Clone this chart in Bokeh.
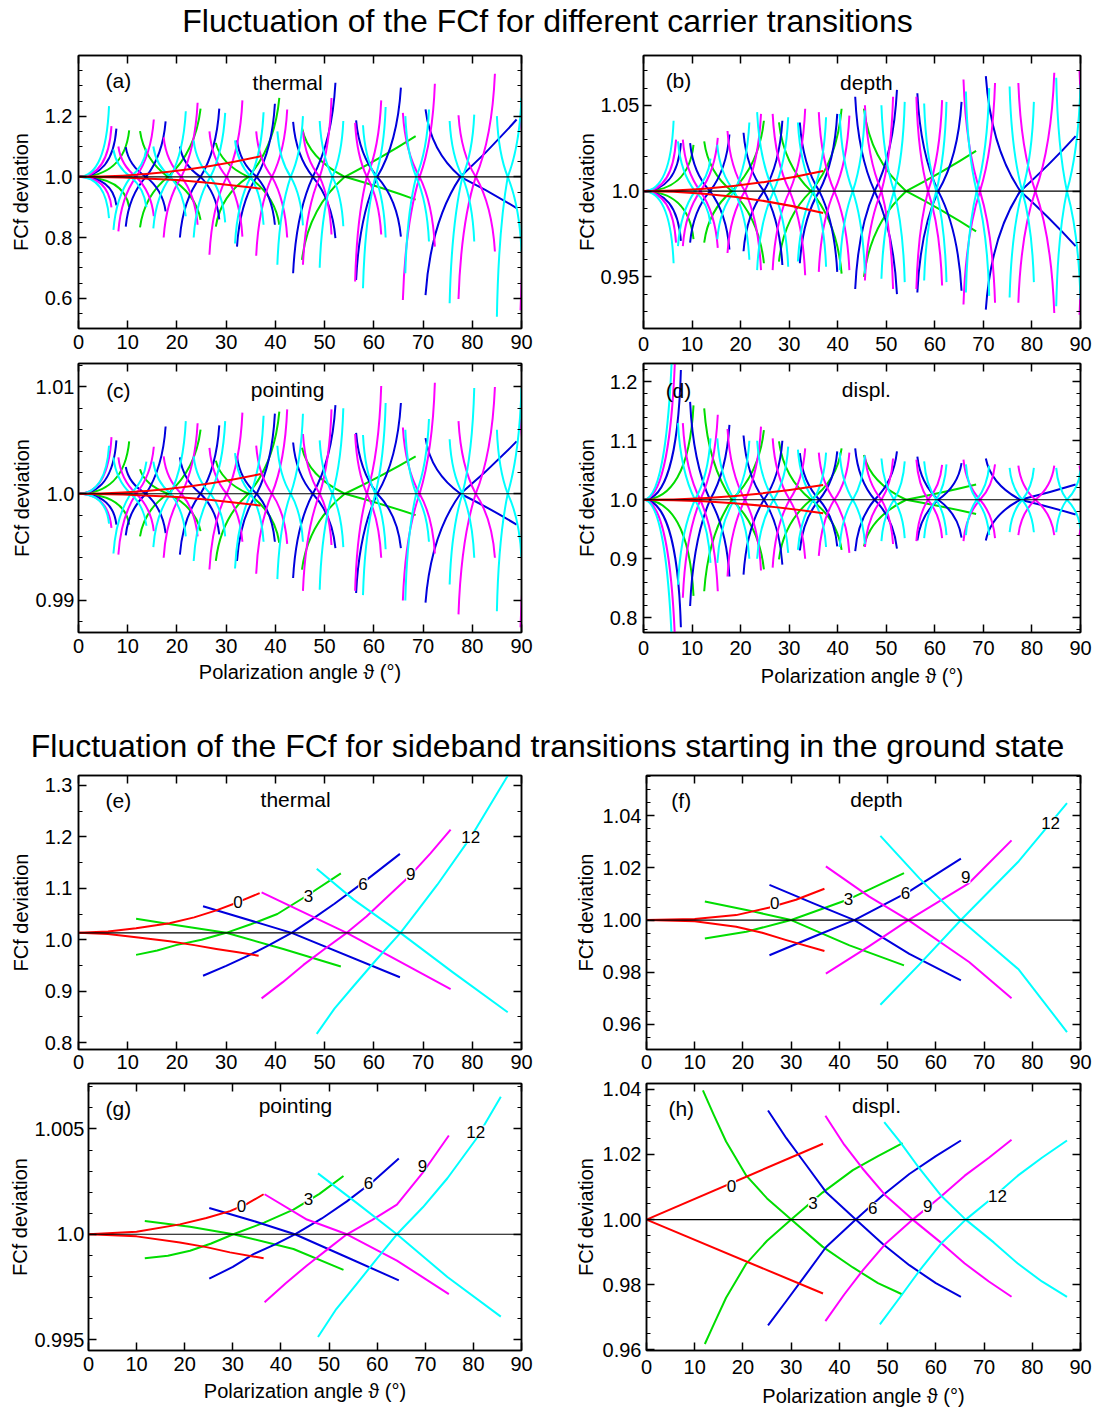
from bokeh.plotting import figure
from bokeh.models import Range1d, LinearAxis, FixedTicker, Span, Label, LabelSet, ColumnDataSource
from bokeh.layouts import column, row
from bokeh.core.properties import value
from bokeh.embed import file_html
from bokeh.resources import INLINE

FONT = "Liberation Sans"
COLORS = {"red": "#FF0000", "green": "#00DD00", "blue": "#0000DD",
          "magenta": "#FF00FF", "cyan": "#00FFFF"}
DRAW_ORDER = ["green", "blue", "magenta", "cyan", "red"]
ANGLE_TICKS = [0, 10, 20, 30, 40, 50, 60, 70, 80, 90]

# ---------------- carrier transitions: shared angle structure (left end, node, right end) ----
XS_RED = [(0.0, 0.0, 37.0)]
XS_GREEN = [(0.0, 0.0, 10.3), (12.5, 18.2, 24.8), (27.9, 34.5, 40.8), (45.4, 54.1, 68.5)]
XS_BLUE = [(0.0, 0.0, 7.7), (9.6, 13.7, 17.7), (20.6, 24.8, 28.6), (32.2, 36.2, 39.9),
           (43.6, 47.6, 52.2), (56.4, 60.7, 65.5), (70.5, 77.6, 89.0)]
XS_MAGENTA = [(0.0, 0.0, 6.7), (8.1, 11.7, 15.3), (17.3, 20.9, 24.2), (26.6, 30.1, 33.3),
              (36.1, 39.3, 42.4), (45.6, 49.0, 51.4), (56.2, 58.6, 61.5), (65.9, 69.3, 72.4),
              (77.2, 80.7, 84.6), (89.8, 93.0, 93.0)]
XS_CYAN = [(0.0, 0.0, 6.2), (7.1, 10.6, 13.8), (15.2, 18.7, 21.8), (23.4, 26.8, 29.8),
           (31.8, 35.0, 37.6), (40.4, 43.1, 45.6), (49.0, 51.6, 53.8), (57.8, 60.3, 62.4),
           (66.4, 68.6, 71.2), (75.4, 78.0, 80.4), (85.0, 87.2, 90.0)]

# end values (upper-left, lower-left, upper-right, lower-right) per feature
HA_RED = [(None, None, 1.068, 0.961)]
HA_GREEN = [(None, None, 1.153, 0.900), (1.151, 0.833, 1.225, 0.858), (1.112, 0.836, 1.260, 0.842),
            (1.161, 0.726, 1.134, 0.925)]
HA_BLUE = [(None, None, 1.159, 0.906), (1.098, 0.836, 1.183, 0.886), (1.100, 0.800, 1.225, 0.860),
           (1.120, 0.770, 1.241, 0.842), (1.181, 0.682, 1.310, 0.798), (1.186, 0.660, 1.294, 0.803),
           (1.222, 0.610, 1.189, 0.897)]
HA_MAGENTA = [(None, None, 1.167, 0.899), (1.100, 0.820, 1.189, 0.870), (1.130, 0.800, 1.244, 0.842),
              (1.150, 0.743, 1.252, 0.803), (1.150, 0.740, 1.222, 0.800), (1.150, 0.710, 1.260, 0.810),
              (1.178, 0.655, 1.252, 0.810), (1.211, 0.594, 1.307, 0.770), (1.203, 0.597, 1.340, 0.754),
              (1.200, 0.560, None, None)]
HA_CYAN = [(None, None, 1.233, 0.864), (1.090, 0.825, 1.093, 0.900), (1.100, 0.830, 1.216, 0.870),
           (1.120, 0.800, 1.211, 0.850), (1.120, 0.780, 1.213, 0.842), (1.150, 0.710, 1.200, 0.840),
           (1.184, 0.700, 1.184, 0.837), (1.170, 0.633, 1.230, 0.800), (1.200, 0.682, 1.222, 0.787),
           (1.184, 0.583, 1.205, 0.787), (1.200, 0.539, 1.260, 0.754)]

HB_RED = [(None, None, 1.0117, 0.9873)]
HB_GREEN = [(None, None, 1.027, 0.972), (1.029, 0.970, 1.041, 0.958), (1.040, 0.959, 1.048, 0.952),
            (1.048, 0.950, 1.0234, 0.9766)]
HB_BLUE = [(None, None, 1.028, 0.971), (1.028, 0.970, 1.033, 0.966), (1.034, 0.965, 1.041, 0.957),
           (1.040, 0.958, 1.045, 0.953), (1.055, 0.943, 1.059, 0.940), (1.057, 0.941, 1.052, 0.942),
           (1.067, 0.931, 1.032, 0.968)]
HB_MAGENTA = [(None, None, 1.030, 0.970), (1.030, 0.968, 1.031, 0.967), (1.035, 0.964, 1.045, 0.954),
              (1.045, 0.954, 1.048, 0.951), (1.046, 0.953, 1.044, 0.954), (1.050, 0.948, 1.055, 0.943),
              (1.055, 0.943, 1.053, 0.945), (1.065, 0.934, 1.063, 0.935), (1.063, 0.935, 1.069, 0.929),
              (1.070, 0.928, None, None)]
HB_CYAN = [(None, None, 1.041, 0.958), (1.029, 0.968, 1.019, 0.981), (1.027, 0.972, 1.040, 0.960),
           (1.046, 0.954, 1.043, 0.956), (1.040, 0.959, 1.043, 0.956), (1.045, 0.954, 1.047, 0.952),
           (1.050, 0.949, 1.052, 0.947), (1.051, 0.948, 1.052, 0.947), (1.058, 0.941, 1.060, 0.939),
           (1.061, 0.938, 1.052, 0.947), (1.066, 0.933, 1.062, 0.937)]

HC_RED = [(None, None, 1.00185, 0.9989)]
HC_GREEN = [(None, None, 1.0049, 0.9971), (1.0023, 0.9960, 1.0060, 0.9965), (1.0031, 0.9937, 1.0077, 0.9954),
            (1.0043, 0.9929, 1.0035, 0.9980)]
HC_BLUE = [(None, None, 1.0050, 0.9971), (1.0025, 0.9961, 1.0063, 0.9963), (1.0034, 0.9943, 1.0064, 0.9962),
           (1.0035, 0.9937, 1.0075, 0.9955), (1.0048, 0.9921, 1.0083, 0.9949), (1.0057, 0.9907, 1.0085, 0.9949),
           (1.0052, 0.9898, 1.0049, 0.9971)]
HC_MAGENTA = [(None, None, 1.0053, 0.9968), (1.0034, 0.9943, 1.0044, 0.9965), (1.0035, 0.9940, 1.0066, 0.9960),
              (1.0043, 0.9929, 1.0076, 0.9955), (1.0045, 0.9925, 1.0079, 0.9953), (1.0056, 0.9909, 1.0079, 0.9952),
              (1.0056, 0.9909, 1.0101, 0.9940), (1.0062, 0.9900, 1.0104, 0.9944), (1.0068, 0.9887, 1.0100, 0.9940),
              (1.0070, 0.9875, None, None)]
HC_CYAN = [(None, None, 1.0045, 0.9972), (1.0034, 0.9944, 1.0030, 0.9970), (1.0030, 0.9950, 1.0068, 0.9960),
           (1.0035, 0.9937, 1.0068, 0.9960), (1.0038, 0.9930, 1.0073, 0.9955), (1.0045, 0.9920, 1.0075, 0.9955),
           (1.0050, 0.9910, 1.0080, 0.9950), (1.0055, 0.9905, 1.0085, 0.9948), (1.0060, 0.9900, 1.0070, 0.9955),
           (1.0051, 0.9915, 1.0099, 0.9940), (1.0060, 0.9890, 1.0099, 0.9940)]

HD_RED = [(None, None, 1.025, 0.977)]
HD_GREEN = [(None, None, 1.160, 0.837), (1.155, 0.845, 1.118, 0.882), (1.099, 0.899, 1.087, 0.915),
            (1.076, 0.921, 1.026, 0.976)]
HD_BLUE = [(None, None, 1.220, 0.784), (1.166, 0.820, 1.127, 0.870), (1.109, 0.873, 1.100, 0.890),
           (1.079, 0.914, 1.082, 0.921), (1.087, 0.913, 1.082, 0.917), (1.073, 0.931, 1.062, 0.936),
           (1.070, 0.931, 1.026, 0.975)]
HD_MAGENTA = [(None, None, 1.300, 0.700), (1.130, 0.834, 1.144, 0.845), (1.120, 0.870, 1.124, 0.880),
              (1.104, 0.885, 1.087, 0.900), (1.080, 0.905, 1.080, 0.910), (1.075, 0.920, 1.070, 0.925),
              (1.068, 0.930, 1.059, 0.935), (1.068, 0.930, 1.060, 0.935), (1.058, 0.940, 1.058, 0.940),
              (1.058, 0.940, None, None)]
HD_CYAN = [(None, None, 1.350, 0.650), (1.130, 0.856, 1.104, 0.893), (1.104, 0.893, 1.100, 0.900),
           (1.100, 0.900, 1.090, 0.910), (1.085, 0.915, 1.080, 0.920), (1.080, 0.920, 1.075, 0.925),
           (1.070, 0.930, 1.065, 0.935), (1.065, 0.935, 1.060, 0.940), (1.060, 0.940, 1.058, 0.940),
           (1.054, 0.945, 1.054, 0.945), (1.054, 0.945, 1.050, 0.950)]

RANGE_END = {"red": True, "green": True, "blue": True, "magenta": False, "cyan": False}

# ---------------- sideband transitions (rising branch, falling branch) ----------------
E_CENTER = 1.0134
E_RED = ([(0, 1.0134), (6.0, 1.0158), (11.7, 1.0224), (18.5, 1.032), (23.5, 1.0435), (28.0, 1.057),
          (32.4, 1.073), (36.8, 1.0905)],
         [(0, 1.0134), (6.0, 1.011), (11.7, 1.0049), (18.5, 0.997), (23.5, 0.9895), (28.0, 0.982),
          (32.4, 0.9755), (36.6, 0.969)])
E_GREEN = ([(11.7, 0.9705), (16.0, 0.979), (19.8, 0.9895), (25.0, 1.000), (30.0, 1.0134), (35.0, 1.030),
            (40.4, 1.050), (46.7, 1.0875), (53.3, 1.129)],
           [(11.7, 1.0406), (20.0, 1.028), (30.0, 1.0134), (41.6, 0.982), (53.3, 0.948)])
E_BLUE = ([(25.3, 0.930), (30.0, 0.949), (34.5, 0.969), (39.0, 0.991), (43.3, 1.0134), (47.5, 1.040),
           (52.0, 1.070), (57.8, 1.111), (65.3, 1.167)],
          [(25.3, 1.065), (43.3, 1.0134), (65.3, 0.927)])
E_MAGENTA = ([(37.2, 0.886), (41.5, 0.9175), (45.7, 0.951), (50.0, 0.982), (54.5, 1.0134), (58.5, 1.045),
              (62.5, 1.081), (67.5, 1.126), (71.5, 1.168), (75.6, 1.214)],
             [(37.2, 1.092), (54.5, 1.0134), (75.6, 0.904)])
E_CYAN = ([(48.4, 0.817), (52.0, 0.866), (55.9, 0.910), (60.5, 0.961), (65.4, 1.0134), (69.0, 1.058),
           (72.9, 1.107), (79.7, 1.1995), (87.2, 1.319)],
          [(48.4, 1.138), (55.9, 1.078), (65.4, 1.0134), (76.0, 0.937), (87.2, 0.859)])

F_RED = ([(0, 1.0), (10.0, 1.0004), (18.6, 1.0019), (25.5, 1.0048), (31.0, 1.0078), (36.9, 1.012)],
         [(0, 1.0), (10.0, 0.9995), (18.6, 0.9974), (24.0, 0.9951), (29.0, 0.9923), (36.9, 0.9881)])
F_GREEN = ([(12.1, 0.9929), (20.7, 0.9955), (30.0, 1.0), (42.1, 1.0081), (53.4, 1.018)],
           [(12.1, 1.0071), (20.7, 1.0039), (30.0, 1.0), (42.1, 0.9903), (53.4, 0.9826)])
F_BLUE = ([(25.5, 0.9865), (34.5, 0.9935), (43.1, 1.0), (54.5, 1.011), (65.2, 1.0236)],
          [(25.5, 1.0135), (34.5, 1.0065), (43.1, 1.0), (54.5, 0.987), (65.2, 0.9768)])
F_MAGENTA = ([(37.2, 0.9794), (46.2, 0.990), (54.3, 1.0), (66.9, 1.0142), (75.7, 1.0306)],
             [(37.2, 1.0206), (46.2, 1.009), (54.3, 1.0), (66.9, 0.9839), (75.7, 0.970)])
F_CYAN = ([(48.5, 0.9675), (56.6, 0.983), (65.2, 1.0), (77.2, 1.0226), (87.2, 1.0449)],
          [(48.5, 1.0323), (56.6, 1.016), (65.2, 1.0), (77.2, 0.981), (87.2, 0.957)])

G_RED = ([(0, 1.0), (10.0, 1.00012), (19.0, 1.00047), (24.5, 1.00077), (29.4, 1.0011), (33.0, 1.00145),
          (36.4, 1.0019)],
         [(0, 1.0), (10.0, 0.9999), (19.0, 0.99961), (24.5, 0.99939), (29.4, 0.99914), (36.4, 0.99886)])
G_GREEN = ([(11.7, 0.99886), (16.5, 0.99898), (21.1, 0.99922), (25.5, 0.99956), (30.1, 1.0), (36.5, 1.00055),
            (42.6, 1.00117), (48.0, 1.00192), (53.0, 1.00277)],
           [(11.7, 1.00063), (21.1, 1.00036), (30.1, 1.0), (42.6, 0.9993), (53.0, 0.99831)])
G_BLUE = ([(25.1, 0.99789), (30.0, 0.99845), (34.3, 0.99906), (38.8, 0.99952), (42.9, 1.0), (48.5, 1.00075),
           (53.7, 1.00156), (59.2, 1.00252), (64.5, 1.0036)],
          [(25.1, 1.00125), (34.3, 1.00063), (42.9, 1.0), (53.7, 0.99891), (64.5, 0.99781)])
G_MAGENTA = ([(36.6, 0.99677), (41.0, 0.99767), (45.4, 0.99852), (49.6, 0.99927), (53.7, 1.0), (59.0, 1.00068),
              (64.1, 1.00141), (69.4, 1.0029), (74.9, 1.00469)],
             [(36.6, 1.0019), (45.4, 1.0007), (53.7, 1.0), (64.1, 0.99875), (74.9, 0.99716)])
G_CYAN = ([(47.7, 0.99512), (51.5, 0.99645), (55.8, 0.99766), (60.0, 0.99885), (64.1, 1.0), (69.5, 1.00128),
           (74.6, 1.00266), (80.5, 1.0045), (85.7, 1.00653)],
          [(47.7, 1.00289), (55.8, 1.00148), (64.1, 1.0), (74.6, 0.99797), (85.7, 0.99609)])

H_RED = ([(0, 1.0), (36.6, 1.0233)], [(0, 1.0), (36.6, 0.9773)])
H_GREEN = ([(12.1, 0.9618), (14.0, 0.968), (16.5, 0.976), (20.7, 0.9865), (25.0, 0.9935), (30.0, 1.0),
            (36.5, 1.0083), (42.8, 1.0152), (48.0, 1.0195), (53.1, 1.0235)],
           [(11.7, 1.0397), (14.0, 1.032), (16.5, 1.024), (20.7, 1.0135), (25.0, 1.0065), (30.0, 1.0),
            (36.5, 0.9917), (42.8, 0.9853), (48.0, 0.9805), (53.1, 0.977)])
H_BLUE = ([(25.2, 0.9675), (29.0, 0.975), (33.0, 0.983), (37.2, 0.9915), (43.4, 1.0), (49.0, 1.0075),
           (54.5, 1.014), (60.0, 1.0195), (65.2, 1.0243)],
          [(25.2, 1.0335), (29.0, 1.025), (33.0, 1.017), (37.2, 1.0085), (43.4, 1.0), (49.0, 0.9925),
           (54.5, 0.986), (60.0, 0.9805), (65.2, 0.9763)])
H_MAGENTA = ([(37.1, 0.9688), (41.0, 0.977), (44.8, 0.9843), (49.5, 0.9925), (55.2, 1.0), (61.0, 1.007),
              (66.0, 1.0135), (71.0, 1.019), (75.7, 1.0245)],
             [(37.1, 1.0319), (41.0, 1.023), (44.8, 1.0157), (49.5, 1.0075), (55.2, 1.0), (61.0, 0.993),
              (66.0, 0.9865), (71.0, 0.981), (75.7, 0.9763)])
H_CYAN = ([(48.4, 0.9678), (52.5, 0.976), (56.6, 0.9843), (61.0, 0.9925), (66.2, 1.0), (72.0, 1.007),
           (77.0, 1.0135), (82.0, 1.019), (87.2, 1.0243)],
          [(49.3, 1.0299), (52.5, 1.024), (56.6, 1.0157), (61.0, 1.0075), (66.2, 1.0), (72.0, 0.993),
           (77.0, 0.9865), (82.0, 0.981), (87.2, 0.9763)])

LAB_TEXT = ["0", "3", "6", "9", "12"]
E_LAB = [(32.4, 1.073), (46.7, 1.086), (57.8, 1.109), (67.5, 1.127), (79.7, 1.1995)]
F_LAB = [(26.6, 1.0065), (41.9, 1.008), (53.7, 1.0103), (66.2, 1.0164), (83.8, 1.0374)]
G_LAB = [(31.8, 1.00136), (45.7, 1.00169), (58.2, 1.00242), (69.4, 1.00325), (80.5, 1.00488)]
H_LAB = [(17.6, 1.0103), (34.5, 1.0051), (46.9, 1.0036), (58.3, 1.0041), (72.8, 1.0074)]

# ---------------- drawing helpers ----------------
SHAPES = {"pole": (0.45, 0.2, 0.88, 0.5), "zero": (0.55, 0.0, 0.93, 0.3),
          "end": (1 / 3, 0.3, 2 / 3, 0.63), "parab": (1 / 3, 0.0, 2 / 3, 1 / 3)}


def arm_rows(xs, hs, range_end, center=1.0):
    out = {k: [] for k in ("x0", "y0", "x1", "y1", "cx0", "cy0", "cx1", "cy1")}
    n = len(xs)
    for i, ((xl, xn, xr), (ul, ll, ur, lr)) in enumerate(zip(xs, hs)):
        arms = []
        if ul is not None and xl < xn:
            arms += [(xl, ul, "pole"), (xl, ll, "pole")]
        if ur is not None and xr > xn:
            last = range_end and i == n - 1
            if xn == 0:
                kind = "parab" if last else "zero"
            else:
                kind = "end" if last else "pole"
            arms += [(xr, ur, kind), (xr, lr, kind)]
        for xe, ye, kind in arms:
            a, b, c, d = SHAPES[kind]
            L = xe - xn
            D = ye - center
            out["x0"].append(xn); out["y0"].append(center)
            out["x1"].append(xe); out["y1"].append(ye)
            out["cx0"].append(xn + a * L); out["cy0"].append(center + b * D)
            out["cx1"].append(xn + c * L); out["cy1"].append(center + d * D)
    return out


def cfg_axis(ax, ticker, size="20px"):
    ax.ticker = ticker
    ax.major_tick_in = 8
    ax.major_tick_out = 0
    ax.minor_tick_in = 4
    ax.minor_tick_out = 0
    ax.axis_line_color = "black"
    ax.axis_line_width = 1.5
    ax.major_tick_line_color = "black"
    ax.major_tick_line_width = 1.5
    ax.minor_tick_line_color = "black"
    ax.minor_tick_line_width = 1.2
    ax.major_label_text_font = FONT
    ax.major_label_text_font_size = size
    ax.major_label_text_color = "black"
    ax.axis_label_text_font = FONT
    ax.axis_label_text_font_size = "20px"
    ax.axis_label_text_font_style = "normal"
    ax.axis_label_text_color = "black"


def mirror_axis(ticker):
    ax = LinearAxis()
    cfg_axis(ax, ticker, "0px")
    ax.major_label_standoff = 0
    return ax


def make_panel(spec):
    (w, h, bl, br, bt, bb, y0, y1, ymaj, ylabs, ystep, ylab_so, ytick_so,
     xlabel, xlab_so, xtick_so, tag, name, tagpos, namepos) = spec
    p = figure(width=w, height=h, x_range=Range1d(0, 90), y_range=Range1d(y0, y1),
               output_backend="svg", toolbar_location=None,
               min_border_left=bl, min_border_right=br, min_border_top=bt, min_border_bottom=bb)
    p.xgrid.visible = False
    p.ygrid.visible = False
    p.outline_line_color = "black"
    p.outline_line_width = 1.5
    p.background_fill_color = "white"
    p.border_fill_color = "white"
    nminor = int(round((y1 - y0) / ystep)) + 2
    start = round(y0 / ystep) * ystep
    yminor = [round(start + i * ystep, 6) for i in range(nminor)]
    xa = p.xaxis[0]
    ya = p.yaxis[0]
    cfg_axis(xa, FixedTicker(ticks=ANGLE_TICKS, minor_ticks=[]))
    cfg_axis(ya, FixedTicker(ticks=ymaj, minor_ticks=yminor))
    ya.major_label_overrides = {v: s for v, s in zip(ymaj, ylabs)}
    ya.axis_label = "FCf deviation"
    ya.axis_label_standoff = ylab_so
    ya.major_label_standoff = ytick_so
    xa.major_label_standoff = xtick_so
    if xlabel:
        xa.axis_label = xlabel
        xa.axis_label_standoff = xlab_so
    p.add_layout(mirror_axis(FixedTicker(ticks=ANGLE_TICKS, minor_ticks=[])), "above")
    p.add_layout(mirror_axis(FixedTicker(ticks=ymaj, minor_ticks=yminor)), "right")
    for txt, (fx, fy) in ((tag, tagpos), (name, namepos)):
        p.add_layout(Label(x=90 * fx, y=y1 - fy * (y1 - y0), text=txt, text_align="center",
                           text_baseline="middle", text_font=FONT, text_font_size="21px",
                           text_color="black"))
    return p


def add_carriers(p, xs_map, hs_map, center=1.0):
    for name in DRAW_ORDER:
        rows = arm_rows(xs_map[name], hs_map[name], RANGE_END[name], center)
        p.bezier(x0="x0", y0="y0", x1="x1", y1="y1", cx0="cx0", cy0="cy0", cx1="cx1", cy1="cy1",
                 source=ColumnDataSource(rows), line_color=COLORS[name], line_width=2)
    p.add_layout(Span(location=center, dimension="width", line_color="black", line_width=1.2))


def add_sidebands(p, curves, labels, center=1.0):
    p.add_layout(Span(location=center, dimension="width", line_color="black", line_width=1.2))
    for name in DRAW_ORDER:
        for pts in curves[name]:
            p.line([q[0] for q in pts], [q[1] for q in pts], line_color=COLORS[name], line_width=2,
                   line_join="round")
    src = ColumnDataSource(dict(x=[q[0] for q in labels], y=[q[1] for q in labels], t=LAB_TEXT))
    p.add_layout(LabelSet(x="x", y="y", text="t", source=src, text_align="center",
                          text_baseline="middle", text_font=value(FONT), text_font_size="17px",
                          text_color="black", background_fill_color="white"))


def title_fig(h, text, yfrac):
    p = figure(width=1094, height=h, x_range=Range1d(0, 1), y_range=Range1d(0, 1),
               x_axis_type=None, y_axis_type=None, output_backend="svg", toolbar_location=None,
               min_border=0)
    p.outline_line_color = None
    p.add_layout(Label(x=0.5, y=yfrac, text=text, text_align="center", text_baseline="middle",
                       text_font=FONT, text_font_size="32px", text_color="black"))
    return p


XS = {"red": XS_RED, "green": XS_GREEN, "blue": XS_BLUE, "magenta": XS_MAGENTA, "cyan": XS_CYAN}
XLAB = "Polarization angle \u03d1 (\u00b0)"

pa = make_panel((571, 315, 78, 50, 10, 32, 0.5, 1.4, [0.6, 0.8, 1.0, 1.2], ["0.6", "0.8", "1.0", "1.2"],
                 0.05, 10, 6, None, 0, 6, "(a)", "thermal", (0.09, 0.092), (0.472, 0.099)))
add_carriers(pa, XS, {"red": HA_RED, "green": HA_GREEN, "blue": HA_BLUE, "magenta": HA_MAGENTA, "cyan": HA_CYAN})

pb = make_panel((523, 315, 72, 14, 10, 32, 0.92, 1.079, [0.95, 1.0, 1.05], ["0.95", "1.0", "1.05"],
                 0.01, 0, 4, None, 0, 8, "(b)", "depth", (0.08, 0.092), (0.51, 0.099)))
add_carriers(pb, XS, {"red": HB_RED, "green": HB_GREEN, "blue": HB_BLUE, "magenta": HB_MAGENTA, "cyan": HB_CYAN})

pc = make_panel((571, 340, 78, 50, 3, 68, 0.987, 1.0122, [0.99, 1.0, 1.01], ["0.99", "1.0", "1.01"],
                 0.002, 0, 4, XLAB, 5, 6, "(c)", "pointing", (0.09, 0.10), (0.472, 0.097)))
add_carriers(pc, XS, {"red": HC_RED, "green": HC_GREEN, "blue": HC_BLUE, "magenta": HC_MAGENTA, "cyan": HC_CYAN})

pd = make_panel((523, 340, 72, 14, 3, 68, 0.775, 1.231, [0.8, 0.9, 1.0, 1.1, 1.2],
                 ["0.8", "0.9", "1.0", "1.1", "1.2"], 0.02, 9, 6, XLAB, 7, 8, "(d)", "displ.",
                 (0.08, 0.10), (0.51, 0.097)))
add_carriers(pd, XS, {"red": HD_RED, "green": HD_GREEN, "blue": HD_BLUE, "magenta": HD_MAGENTA, "cyan": HD_CYAN})

pe = make_panel((571, 307, 78, 50, 5, 28, 0.7865, 1.3194, [0.8, 0.9, 1.0, 1.1, 1.2, 1.3],
                 ["0.8", "0.9", "1.0", "1.1", "1.2", "1.3"], 0.05, 10, 6, None, 0, 5, "(e)", "thermal",
                 (0.09, 0.091), (0.49, 0.087)))
add_sidebands(pe, {"red": E_RED, "green": E_GREEN, "blue": E_BLUE, "magenta": E_MAGENTA, "cyan": E_CYAN},
              E_LAB, E_CENTER)

pf = make_panel((523, 307, 72, 14, 5, 28, 0.9503, 1.0555, [0.96, 0.98, 1.0, 1.02, 1.04],
                 ["0.96", "0.98", "1.00", "1.02", "1.04"], 0.005, 3, 5, None, 0, 5, "(f)", "depth",
                 (0.08, 0.091), (0.53, 0.087)))
add_sidebands(pf, {"red": F_RED, "green": F_GREEN, "blue": F_BLUE, "magenta": F_MAGENTA, "cyan": F_CYAN}, F_LAB)

pg = make_panel((571, 340, 88, 50, 6, 67, 0.99448, 1.00716, [0.995, 1.0, 1.005], ["0.995", "1.0", "1.005"],
                 0.001, 0, 4, XLAB, 6, 6, "(g)", "pointing", (0.069, 0.094), (0.478, 0.082)))
add_sidebands(pg, {"red": G_RED, "green": G_GREEN, "blue": G_BLUE, "magenta": G_MAGENTA, "cyan": G_CYAN}, G_LAB)

ph = make_panel((523, 340, 72, 14, 6, 67, 0.9598, 1.0418, [0.96, 0.98, 1.0, 1.02, 1.04],
                 ["0.96", "0.98", "1.00", "1.02", "1.04"], 0.005, 3, 5, XLAB, 8, 9, "(h)", "displ.",
                 (0.08, 0.094), (0.53, 0.082)))
add_sidebands(ph, {"red": H_RED, "green": H_GREEN, "blue": H_BLUE, "magenta": H_MAGENTA, "cyan": H_CYAN}, H_LAB)

t1 = title_fig(45, "Fluctuation of the FCf for different carrier transitions", 0.55)
t2 = title_fig(70, "Fluctuation of the FCf for sideband transitions starting in the ground state", 0.357)

layout = column(t1, row(pa, pb), row(pc, pd), t2, row(pe, pf), row(pg, ph))

open("out.html", "w").write(file_html(layout, INLINE))
